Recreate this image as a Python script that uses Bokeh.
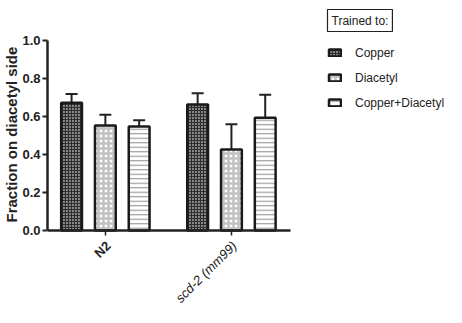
import numpy as np
from bokeh.plotting import figure
from bokeh.models import (ColumnDataSource, Legend, LegendItem, Label, FixedTicker,
                          Whisker, Range1d, CustomJSTickFormatter, Title)
from bokeh.embed import file_html
from bokeh.resources import INLINE

groups = ["N2", "scd-2 (mm99)"]
series = ["Copper", "Diacetyl", "Copper+Diacetyl"]
copper = [0.672, 0.663]
copper_err = [0.047, 0.060]
diacetyl = [0.553, 0.426]
diacetyl_err = [0.056, 0.133]
combo = [0.547, 0.593]
combo_err = [0.034, 0.121]
y_ticks = [0.0, 0.2, 0.4, 0.6, 0.8, 1.0]

FONT = "Liberation Sans"
INK = "#222222"

# frame covers the whole area right of the y axis so that the legend
# and the rotated category labels can sit inside it
X0, X1 = -0.459, 1.47
p = figure(width=446, height=307, output_backend="svg", toolbar_location=None,
           x_range=Range1d(X0, 2.706), y_range=Range1d(-0.405, 1.2105),
           min_border_left=44, min_border_right=0, min_border_top=0,
           min_border_bottom=0)
p.outline_line_color = None
p.xgrid.visible = False
p.ygrid.visible = False

gx = np.arange(len(groups))
offsets = [-0.268, 0.0, 0.268]
width = 0.165
vals = [copper, diacetyl, combo]
errs = [copper_err, diacetyl_err, combo_err]
styles = [
    dict(fill_color="#8a8a8a", hatch_pattern="cross", hatch_color="#2e2e2e",
         hatch_scale=3, hatch_weight=1.2),
    dict(fill_color="white", hatch_pattern="cross", hatch_color="#c2c2c2",
         hatch_scale=5, hatch_weight=2.5),
    dict(fill_color="white", hatch_pattern="horizontal_line", hatch_color="#9a9a9a",
         hatch_scale=4.5, hatch_weight=1.2),
]

items = []
for i, name in enumerate(series):
    src = ColumnDataSource(dict(x=gx + offsets[i], top=vals[i],
                                upper=np.array(vals[i]) + np.array(errs[i])))
    w = Whisker(base="x", lower="top", upper="upper", source=src,
                line_color=INK, line_width=2, lower_head=None)
    w.upper_head.size = 12
    w.upper_head.line_width = 2
    w.upper_head.line_color = INK
    p.add_layout(w)
    r = p.vbar(x="x", top="top", width=width, source=src, line_color="#1a1a1a",
               line_width=2.5, **styles[i])
    items.append(LegendItem(label=name, renderers=[r]))

legend = Legend(items=items, location=(280, 197), border_line_color=None,
                background_fill_alpha=0, padding=0, margin=0, spacing=10,
                label_height=15, glyph_height=9, glyph_width=15, label_standoff=13,
                label_text_font=FONT, label_text_font_size="12px",
                label_text_color=INK)
p.add_layout(legend, "center")

p.add_layout(Label(x=280, y=287, x_units="screen", y_units="screen",
                   text="Trained to:", text_font=FONT, text_font_size="12px",
                   text_color=INK, text_align="left", text_baseline="middle",
                   border_line_color=INK, border_line_width=1.2,
                   background_fill_color="white", padding=4))

# y axis
p.yaxis.bounds = (0, 1)
p.yaxis.ticker = FixedTicker(ticks=y_ticks)
p.yaxis.formatter = CustomJSTickFormatter(code="return tick.toFixed(1);")
p.yaxis.minor_tick_line_color = None
p.yaxis.axis_line_width = 2.5
p.yaxis.axis_line_color = INK
p.yaxis.major_tick_line_width = 2
p.yaxis.major_tick_line_color = INK
p.yaxis.major_tick_out = 5
p.yaxis.major_tick_in = 0
p.yaxis.major_label_text_font = FONT
p.yaxis.major_label_text_font_style = "bold"
p.yaxis.major_label_text_font_size = "13px"
p.yaxis.major_label_text_color = INK
p.yaxis.major_label_standoff = 2

ytitle = Title(text="Fraction on diacetyl side", align="left", offset=85,
               vertical_align="bottom",
               text_font=FONT, text_font_style="bold", text_font_size="15px",
               text_color=INK, standoff=0)
p.add_layout(ytitle, "left")

# x axis at y = 0 inside the frame
p.xaxis.fixed_location = 0
p.xaxis.bounds = (X0, X1)
p.xaxis.ticker = FixedTicker(ticks=list(gx))
p.xaxis.major_label_overrides = {0: "", 1: ""}
p.xaxis.minor_tick_line_color = None
p.xaxis.axis_line_width = 2.5
p.xaxis.axis_line_color = INK
p.xaxis.major_tick_line_width = 1.5
p.xaxis.major_tick_line_color = INK
p.xaxis.major_tick_out = 5
p.xaxis.major_tick_in = 0

label_styles = ["bold", "italic"]
for i, g in enumerate(groups):
    p.add_layout(Label(x=gx[i], y=0, x_units="data", y_units="data",
                       x_offset=3, y_offset=-13, text=g, angle=np.pi / 4,
                       text_align="right", text_baseline="middle", text_font=FONT,
                       text_font_style=label_styles[i], text_font_size="13px",
                       text_color=INK))

open("out.html", "w").write(file_html(p, INLINE))
